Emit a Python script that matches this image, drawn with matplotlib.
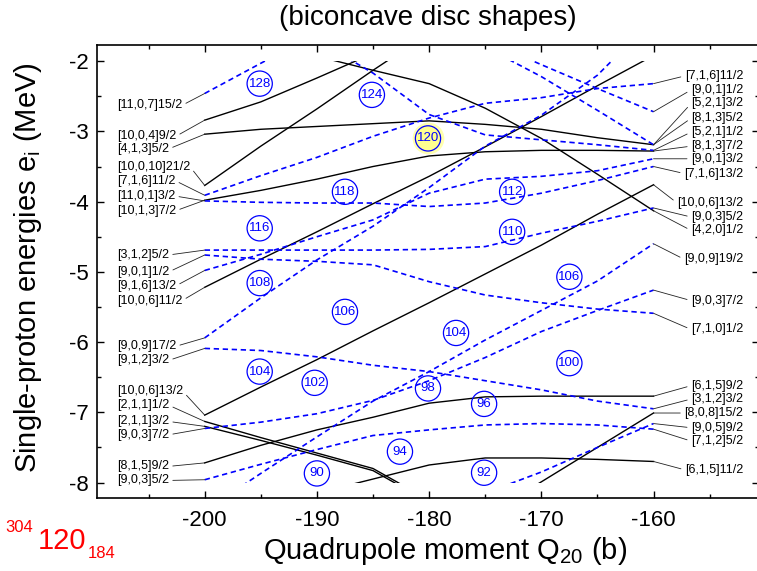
import numpy as np
import matplotlib
matplotlib.use("Agg")
import matplotlib.pyplot as plt
from matplotlib.patches import Rectangle
from matplotlib.ticker import MultipleLocator

plt.rcParams["font.family"] = ["Liberation Sans", "DejaVu Sans"]
plt.rcParams["mathtext.fontset"] = "custom"
plt.rcParams["mathtext.rm"] = "Liberation Sans"
plt.rcParams["mathtext.it"] = "Liberation Sans:italic"
plt.rcParams["axes.unicode_minus"] = False

nan = np.nan
q20 = [-200, -195, -190, -185, -180, -175, -170, -165, -160]

# positive parity levels (solid black), energies in MeV at each Q20
s_10_0_4 = [-2.84, -2.58, -2.24, -1.89, nan, nan, nan, nan, nan]
s_4_2_0 = [nan, nan, -1.93, -2.13, -2.32, -2.67, -3.10, -3.61, -4.13]
s_4_1_3 = [-3.04, -2.97, -2.93, -2.89, -2.85, -2.90, -2.97, -3.09, -3.19]
s_10_0_10 = [-3.77, -3.21, -2.68, -2.13, -1.60, nan, nan, nan, nan]
s_10_1_3 = [-3.98, -3.84, -3.68, -3.50, -3.35, -3.29, -3.27, -3.27, -3.28]
s_10_0_6a = [-5.22, -4.82, -4.43, -4.03, -3.64, -3.22, -2.79, -2.35, -1.92]
s_10_0_6b = [-7.04, -6.64, -6.25, -5.84, -5.44, -5.03, -4.62, -4.18, -3.76]
s_2_1_1a = [-7.13, -7.36, -7.58, -7.80, -8.25, nan, nan, nan, nan]
s_2_1_1b = [-7.20, -7.40, -7.61, -7.83, -8.28, nan, nan, nan, nan]
s_8_1_5 = [-7.72, -7.47, -7.25, -7.07, -6.87, -6.78, -6.77, -6.77, -6.77]
s_6_1_5 = [nan, nan, -8.15, -7.95, -7.75, -7.65, -7.65, -7.67, -7.70]
s_8_0_8 = [nan, nan, nan, nan, nan, -8.47, -7.99, -7.50, -7.01]

# negative parity levels (dashed blue)
d_11_0_7 = [-2.46, -2.03, -1.60, nan, nan, nan, nan, nan, nan]
d_7_1_6 = [-3.91, -3.63, -3.37, -3.07, -2.81, -2.60, -2.52, -2.39, -2.32]
d_11_0_1 = [-3.99, -4.01, -4.02, -4.02, -4.07, -4.02, -3.88, -3.70, -3.50]
d_3_1_2a = [-4.69, -4.69, -4.69, -4.69, -4.68, -4.64, -4.45, -4.28, -4.09]
d_9_0_1 = [-4.76, -4.82, -4.85, -4.90, -5.14, -5.33, -5.44, -5.53, -5.59]
d_9_1_6 = [-4.98, -4.75, -4.50, -4.26, -3.88, -3.68, -3.64, -3.56, -3.39]
d_9_0_9 = [-5.94, -5.37, -4.83, -4.35, -3.80, -3.21, -2.77, -2.20, -1.40]
d_9_1_2 = [-6.09, -6.12, -6.21, -6.33, -6.42, -6.55, -6.68, -6.84, -6.95]
d_9_0_3a = [-7.23, -7.14, -7.02, -6.83, -6.55, -6.22, -5.85, -5.55, -5.26]
d_9_0_9b = [-8.40, -7.87, -7.35, -6.84, -6.42, -5.97, -5.55, -5.13, -4.60]
d_9_0_3b = [-7.96, -7.74, -7.53, -7.33, -7.25, -7.18, -7.16, -7.18, -7.24]
d_9_0_5 = [nan, nan, nan, nan, nan, -8.15, -7.85, -7.50, -7.16]
d_5_2_1a = [nan, nan, nan, nan, nan, -1.80, -2.22, -2.70, -3.19]
d_9_0_1b = [nan, nan, nan, nan, nan, -1.70, -2.05, -2.39, -2.72]
d_5_2_1b = [nan, nan, -1.70, -2.17, -2.76, -3.05, -3.12, -3.19, -3.27]

solid_levels = [s_10_0_4, s_4_2_0, s_4_1_3, s_10_0_10, s_10_1_3, s_10_0_6a,
                s_10_0_6b, s_2_1_1a, s_2_1_1b, s_8_1_5, s_6_1_5, s_8_0_8]
dashed_levels = [d_11_0_7, d_7_1_6, d_11_0_1, d_3_1_2a, d_9_0_1, d_9_1_6,
                 d_9_0_9, d_9_1_2, d_9_0_3a, d_9_0_9b, d_9_0_3b, d_9_0_5,
                 d_5_2_1a, d_9_0_1b, d_5_2_1b]

# Nilsson labels: text, label height, level it points to
left_labels = [
    ("[11,0,7]15/2", -2.63, d_11_0_7), ("[10,0,4]9/2", -3.07, s_10_0_4),
    ("[4,1,3]5/2", -3.25, s_4_1_3), ("[10,0,10]21/2", -3.50, s_10_0_10),
    ("[7,1,6]11/2", -3.70, d_7_1_6), ("[11,0,1]3/2", -3.92, d_11_0_1),
    ("[10,1,3]7/2", -4.13, s_10_1_3), ("[3,1,2]5/2", -4.76, d_3_1_2a),
    ("[9,0,1]1/2", -5.00, d_9_0_1), ("[9,1,6]13/2", -5.20, d_9_1_6),
    ("[10,0,6]11/2", -5.41, s_10_0_6a), ("[9,0,9]17/2", -6.06, d_9_0_9),
    ("[9,1,2]3/2", -6.26, d_9_1_2), ("[10,0,6]13/2", -6.70, s_10_0_6b),
    ("[2,1,1]1/2", -6.90, s_2_1_1a), ("[2,1,1]3/2", -7.13, s_2_1_1b),
    ("[9,0,3]7/2", -7.32, d_9_0_3a), ("[8,1,5]9/2", -7.77, s_8_1_5),
    ("[9,0,3]5/2", -7.97, d_9_0_3b),
]
right_labels = [
    ("[7,1,6]11/2", -2.21, d_7_1_6), ("[9,0,1]1/2", -2.41, d_9_0_1b),
    ("[5,2,1]3/2", -2.60, d_5_2_1a), ("[8,1,3]5/2", -2.81, s_4_1_3),
    ("[5,2,1]1/2", -3.01, d_5_2_1b), ("[8,1,3]7/2", -3.21, s_10_1_3),
    ("[9,0,1]3/2", -3.39, d_9_1_6), ("[7,1,6]13/2", -3.60, d_11_0_1),
    ("[10,0,6]13/2", -4.02, s_10_0_6b), ("[9,0,3]5/2", -4.22, d_3_1_2a),
    ("[4,2,0]1/2", -4.41, s_4_2_0), ("[9,0,9]19/2", -4.82, d_9_0_9b),
    ("[9,0,3]7/2", -5.41, d_9_0_3a), ("[7,1,0]1/2", -5.82, d_9_0_1),
    ("[6,1,5]9/2", -6.62, s_8_1_5), ("[3,1,2]3/2", -6.81, d_9_1_2),
    ("[8,0,8]15/2", -7.01, s_8_0_8), ("[9,0,5]9/2", -7.22, d_9_0_5),
    ("[7,1,2]5/2", -7.41, d_9_0_3b), ("[6,1,5]11/2", -7.82, s_6_1_5),
]

# shell gaps (magic numbers)
magic_n = [128, 124, 120, 118, 116, 112, 110, 108, 106, 106, 104, 104, 102,
           100, 98, 96, 94, 92, 90]
magic_q = [-195.1, -185.1, -180.1, -187.5, -195.1, -172.6, -172.6, -195.1,
           -187.5, -167.5, -195.1, -177.6, -190.2, -167.5, -180.1, -175.1,
           -182.6, -175.1, -190.0]
magic_e = [-2.32, -2.48, -3.10, -3.86, -4.38, -3.86, -4.43, -5.16, -5.57,
           -5.07, -6.42, -5.87, -6.58, -6.30, -6.66, -6.88, -7.56, -7.86, -7.87]

BLUE = "#0000ff"

fig = plt.figure(figsize=(7.57, 5.71), dpi=100)
ax = fig.add_axes([97 / 757, 1 - 498 / 571, 662 / 757, 453 / 571])
ax.set_xlim(-209.6, -150.6)
ax.set_ylim(-8.22, -1.77)

clip = Rectangle((-215, -8.0), 70, 6.0, transform=ax.transData)
for lv in solid_levels:
    ln, = ax.plot(q20, lv, color="black", lw=1.0)
    ln.set_clip_path(clip)
for lv in dashed_levels:
    ln, = ax.plot(q20, lv, color=BLUE, lw=1.2, dashes=(3.2, 2.2))
    ln.set_clip_path(clip)

# magic-number circles
ax.scatter([magic_q[2]], [magic_e[2]], s=520, color="#ffff60", alpha=0.5,
           lw=0, zorder=3)
ax.scatter([magic_q[2]], [magic_e[2]], s=330, color="#ffff90", lw=0, zorder=3)
ax.scatter(magic_q, magic_e, s=330, facecolors="none", edgecolors=BLUE,
           linewidths=0.9, zorder=4)
for n, q, e in zip(magic_n, magic_q, magic_e):
    ax.text(q, e, str(n), color=BLUE, fontsize=9.5, ha="center",
            va="center", zorder=5)

conn = dict(arrowstyle="-", color="#222222", lw=0.6, shrinkA=1, shrinkB=0)
for txt, ly, lv in left_labels:
    ax.annotate(txt, xy=(q20[0], lv[0]), xytext=(-207.85, ly),
                textcoords="data", ha="left", va="center", fontsize=9,
                arrowprops=dict(conn, relpos=(1, 0.5)))
for txt, ly, lv in right_labels:
    ax.annotate(txt, xy=(q20[-1], lv[-1]), xytext=(-152.0, ly),
                textcoords="data", ha="right", va="center", fontsize=9,
                arrowprops=dict(conn, relpos=(0, 0.5)))

ax.xaxis.set_major_locator(MultipleLocator(10))
ax.xaxis.set_minor_locator(MultipleLocator(5))
ax.yaxis.set_major_locator(MultipleLocator(1))
ax.yaxis.set_minor_locator(MultipleLocator(0.5))
ax.tick_params(which="both", direction="in", top=True, right=True, width=1.0)
ax.tick_params(which="major", length=5, labelsize=16)
ax.tick_params(which="minor", length=3)
ax.tick_params(axis="x", pad=9)
ax.tick_params(axis="y", pad=6)
for sp in ax.spines.values():
    sp.set_linewidth(1.2)

fig.text(428 / 757, 1 - 18 / 571, "(biconcave disc shapes)", fontsize=20,
         ha="center", va="center")
fig.text(445 / 757, 1 - 551 / 571, r"Quadrupole moment Q$_\mathregular{20}$ (b)",
         fontsize=21, ha="center", va="center")
fig.text(28 / 757, 1 - 268 / 571,
         r"Single-proton energies e$_\mathregular{i}$ (MeV)",
         fontsize=21, ha="center", va="center", rotation=90)

fig.text(5 / 757, 1 - 527 / 571, "304", color="red", fontsize=12,
         ha="left", va="center")
fig.text(38 / 757, 1 - 541 / 571, "120", color="red", fontsize=21,
         ha="left", va="center")
fig.text(88 / 757, 1 - 553 / 571, "184", color="red", fontsize=12,
         ha="left", va="center")

fig.savefig("out.png", dpi=100)
